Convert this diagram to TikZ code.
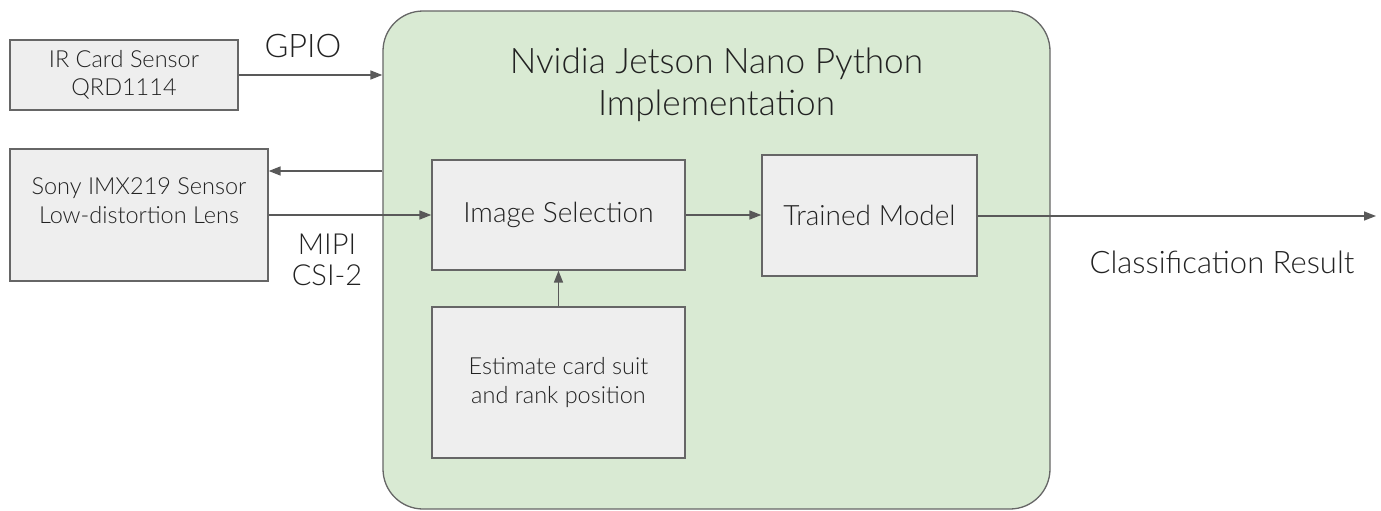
\documentclass[tikz,border=0pt]{standalone}
\usepackage{fontspec}
\IfFontExistsTF{Lato Light}{\setmainfont{Lato Light}}{\setmainfont{Lato}}
\usetikzlibrary{arrows.meta}
\definecolor{boxfill}{HTML}{EEEEEE}
\definecolor{boxline}{HTML}{666666}
\definecolor{greenfill}{HTML}{D9EAD3}
\definecolor{arrline}{HTML}{595959}
\definecolor{txt}{HTML}{222222}
\tikzset{
  graybox/.style={draw=boxline, fill=boxfill, line width=1.3pt, inner sep=0pt, align=center,
    font=\fontsize{23.5}{28.5}\selectfont, text=txt},
  bigtext/.style={font=\fontsize{28}{33}\selectfont},
  arr/.style={draw=arrline, line width=1.5pt, -{Triangle[length=12pt,width=9pt]}},
  lbl/.style={font=\fontsize{31}{31}\selectfont, text=txt, align=center, inner sep=0pt},
}
\begin{document}
\begin{tikzpicture}[x=1pt,y=-1pt]
\useasboundingbox (0,0) rectangle (1381,511);
\node[draw=boxline, fill=greenfill, line width=1.3pt, rounded corners=40pt, minimum width=667pt, minimum height=498pt, inner sep=0pt] (green) at (716.5,260) {};
\node[font=\fontsize{35.2}{42}\selectfont, text=txt, align=center, inner sep=0pt] (title) at (716.5,85) {Nvidia Jetson Nano Python\\Implementation};
\node[graybox, minimum width=228pt, minimum height=70pt] (ir) at (124,75) {IR Card Sensor\\QRD1114};
\node[graybox, minimum width=258pt, minimum height=132pt] (sony) at (139,215) {Sony IMX219 Sensor\\Low-distortion Lens\\\mbox{}};
\node[graybox, bigtext, minimum width=253pt, minimum height=110pt] (imgsel) at (558.5,215) {Image Selection};
\node[graybox, bigtext, minimum width=215pt, minimum height=121pt] (tm) at (869.5,215.5) {Trained Model};
\node[graybox, minimum width=253pt, minimum height=151pt] (est) at (558.5,382.5) {Estimate card suit\\and rank position};
\node[lbl, font=\fontsize{32.5}{33}\selectfont] (gpio) at (303,46) {GPIO};
\node[lbl, font=\fontsize{29}{30.5}\selectfont] (mipi) at (327,260) {MIPI\\CSI-2};
\node[lbl] (cls) at (1222,262) {Classification Result};
\coordinate (back) at ([yshift=44pt]sony.east);
\coordinate (out) at (1376,216);
\draw[arr] (ir.east) -- (ir.east -| green.west);
\draw[arr] (green.west |- back) -- (back);
\draw[arr] (sony.east) -- (imgsel.west);
\draw[arr] (est.north) -- (imgsel.south);
\draw[arr] (imgsel.east) -- (tm.west |- imgsel.east);
\draw[arr] (tm.east |- out) -- (out);
\end{tikzpicture}
\end{document}
